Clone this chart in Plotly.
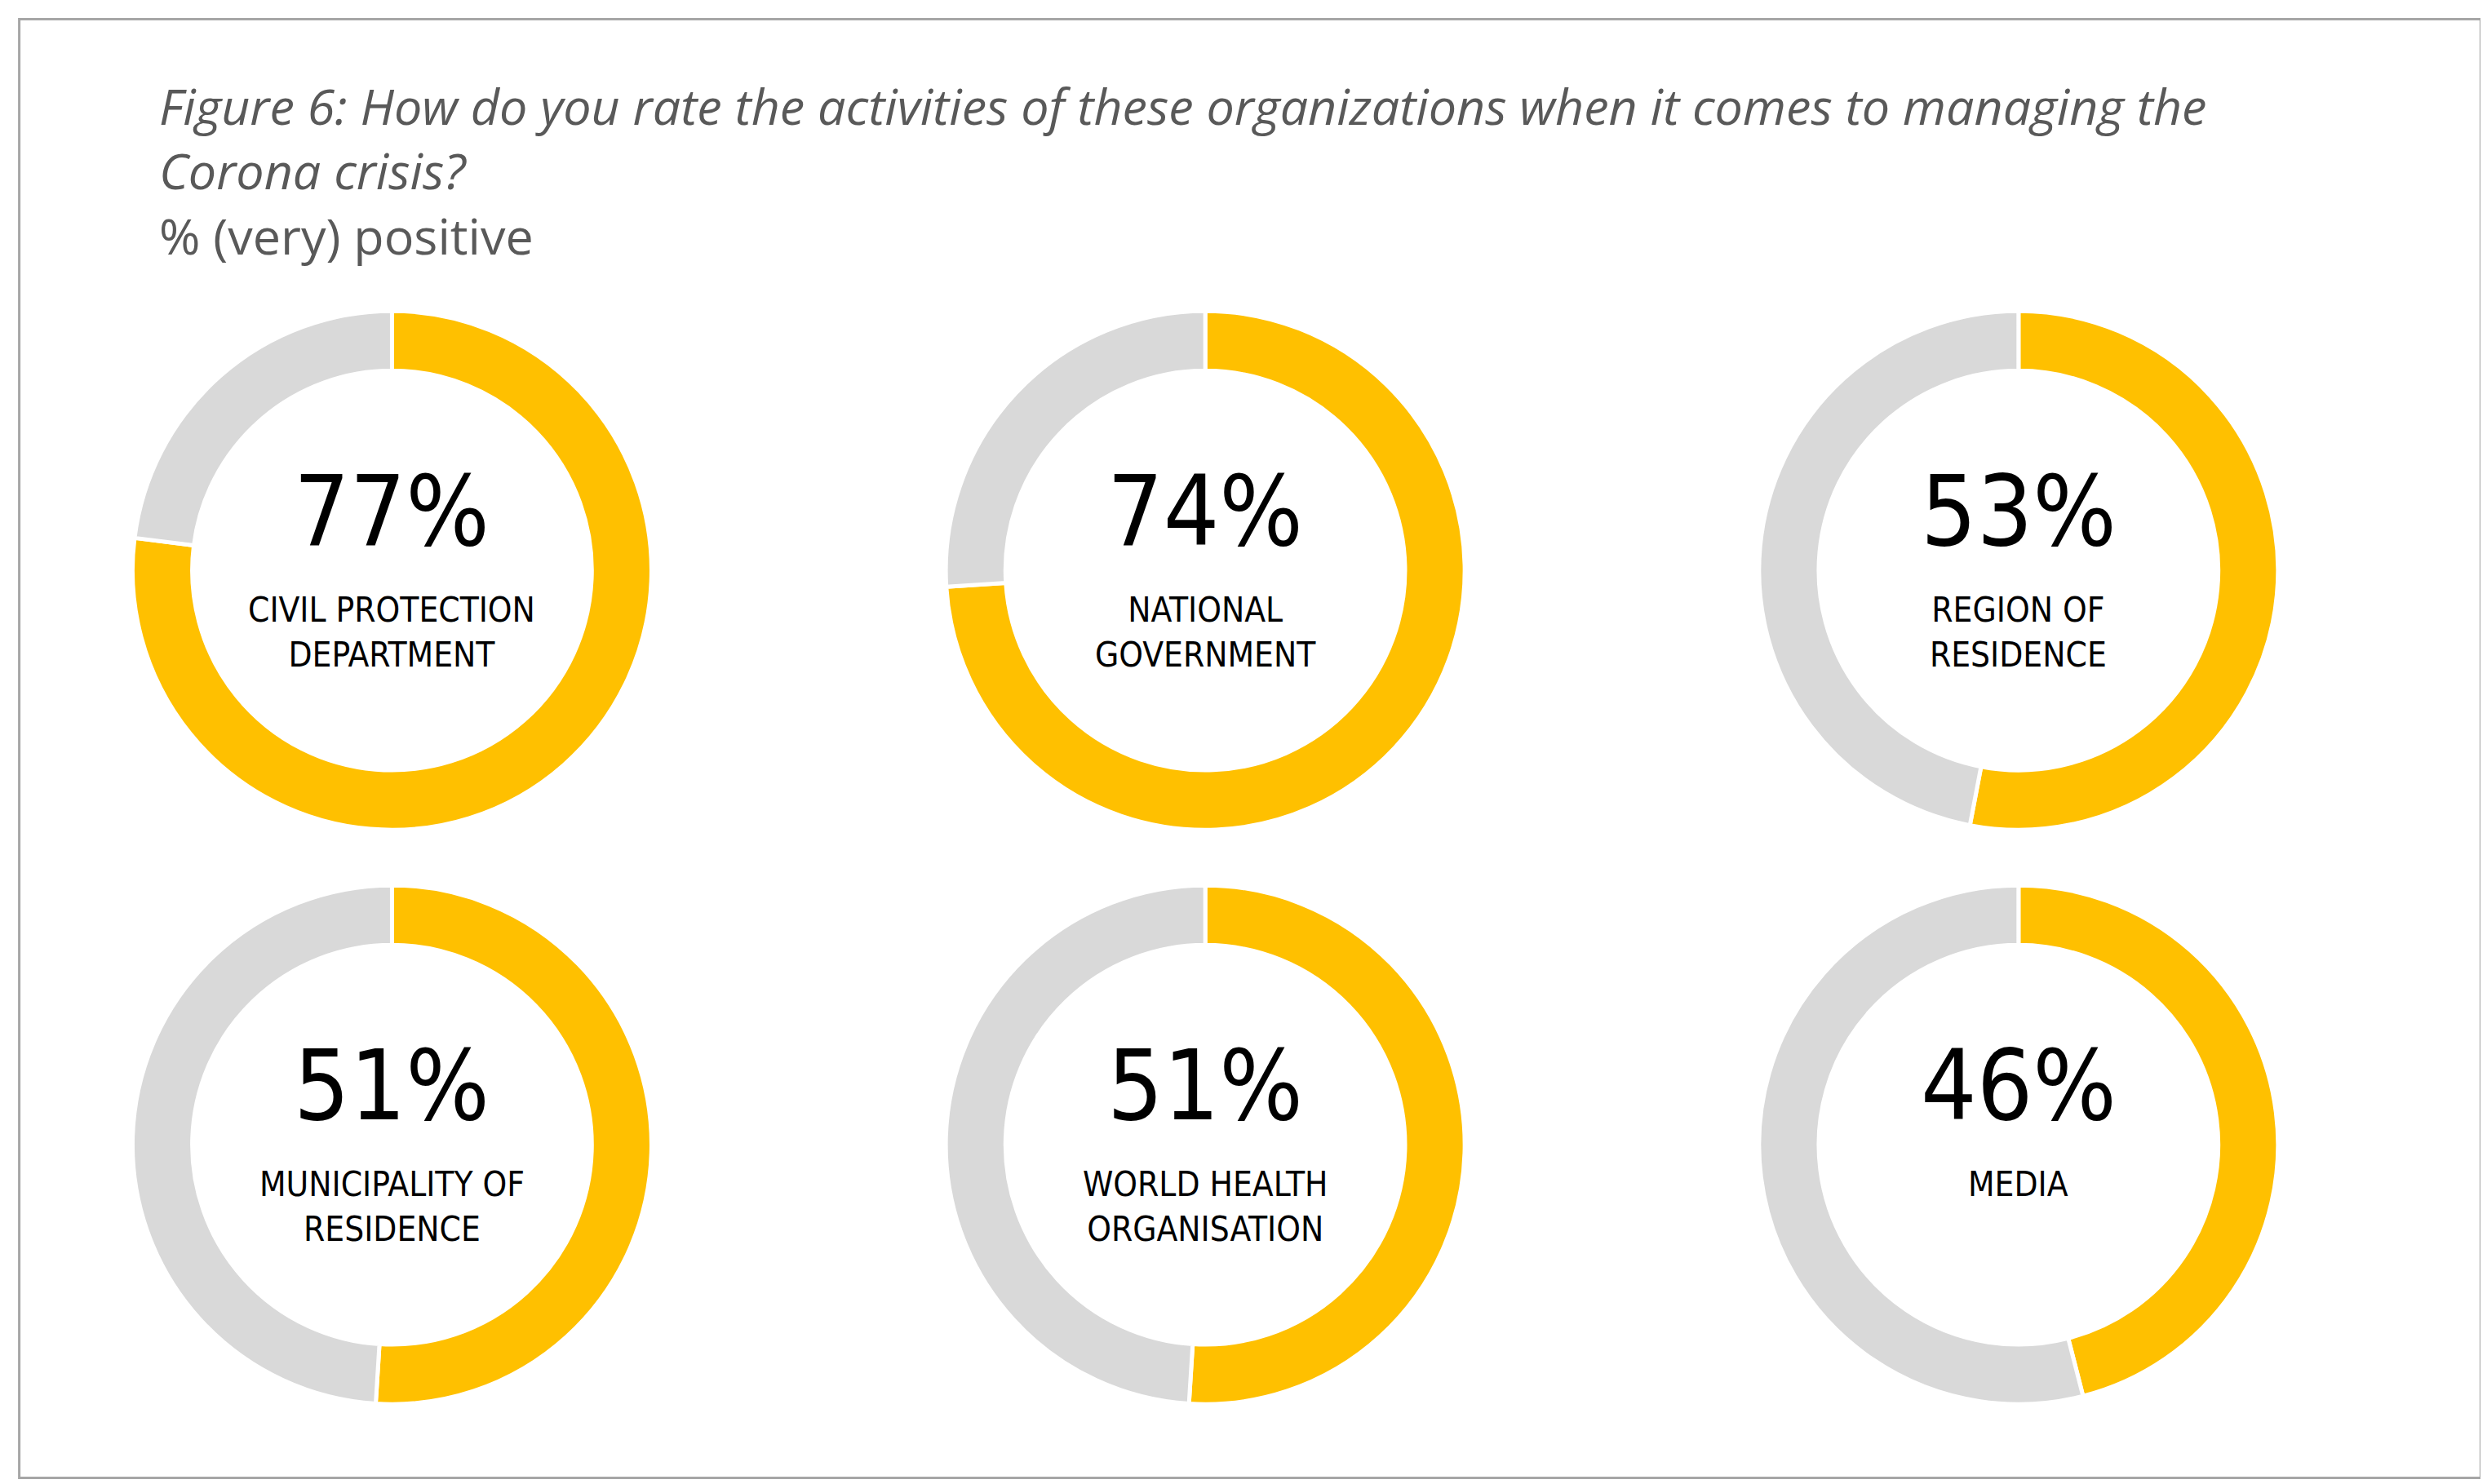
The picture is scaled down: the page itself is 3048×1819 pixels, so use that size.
import plotly.graph_objects as go

orgs = ["CIVIL PROTECTION<br>DEPARTMENT", "NATIONAL<br>GOVERNMENT", "REGION OF<br>RESIDENCE",
        "MUNICIPALITY OF<br>RESIDENCE", "WORLD HEALTH<br>ORGANISATION", "MEDIA"]
positive = [77, 74, 53, 51, 51, 46]

W, H = 3048, 1819
fig = go.Figure()
cx = [0.155, 0.482, 0.809]
cy = [1 - 0.38, 1 - 0.767]
rx = 318 / W
ry = 318 / H
cond = "Agency FB, Liberation Sans Narrow, DejaVu Sans Condensed, sans-serif"

for i, (org, p) in enumerate(zip(orgs, positive)):
    x0 = cx[i % 3]
    y0 = cy[i // 3]
    fig.add_trace(go.Pie(
        values=[p, 100 - p], hole=0.77, sort=False, direction="clockwise", rotation=0,
        marker=dict(colors=["#FFC000", "#D9D9D9"], line=dict(color="white", width=5)),
        textinfo="none", hoverinfo="skip", showlegend=False,
        domain=dict(x=[x0 - rx, x0 + rx], y=[y0 - ry, y0 + ry]),
    ))
    fig.add_annotation(x=x0, y=y0 + 0.04, xref="paper", yref="paper", text=f"{p}%",
                       xanchor="center", yanchor="middle", showarrow=False,
                       font=dict(family=cond, size=120, color="black"))
    fig.add_annotation(x=x0, y=y0 - 0.012, xref="paper", yref="paper", text=org,
                       xanchor="center", yanchor="top", showarrow=False,
                       font=dict(family=cond, size=42, color="black"))

fig.add_annotation(x=95 / 1563, y=1 - 40 / 935, xref="paper", yref="paper", xanchor="left", yanchor="top",
                   align="left", showarrow=False,
                   text="<i>Figure 6: How do you rate the activities of these organizations when it comes to managing the<br>Corona crisis?</i><br>% (very) positive",
                   font=dict(family="Open Sans, Liberation Sans", size=61, color="#595959"))
fig.add_shape(type="rect", xref="paper", yref="paper", x0=8 / 1563, x1=1555 / 1563, y0=1 - 927 / 935, y1=1 - 8 / 935,
              line=dict(color="#A6A6A6", width=3))
fig.update_layout(width=W, height=H, margin=dict(l=0, r=0, t=0, b=0),
                  paper_bgcolor="white", plot_bgcolor="white")
fig.write_html("out.html")
